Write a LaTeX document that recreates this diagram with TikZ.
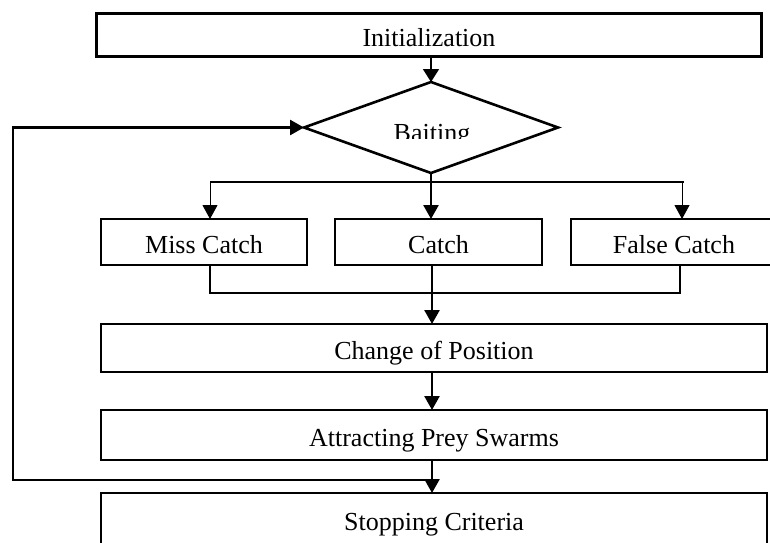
\documentclass[tikz,border=0pt]{standalone}
\usepackage{fontspec}
\setmainfont{Liberation Serif}
\usetikzlibrary{arrows.meta,shapes.geometric}
\begin{document}
\begin{tikzpicture}[x=1pt,y=-1pt,
  box/.style={draw,line width=2.6pt,rectangle,inner sep=0pt,outer sep=0pt,
    font=\fontsize{26}{30}\selectfont,text height=25pt,text depth=3pt},
  decision/.style={draw,line width=2.6pt,diamond,inner sep=0pt,outer sep=0pt},
  flow/.style={line width=2.6pt,-{Triangle[length=14pt,width=15pt]}},
  thinflow/.style={line width=1pt,-{Triangle[length=14pt,width=15pt]}},
  midflow/.style={line width=1.6pt,-{Triangle[length=13pt,width=16pt]}},
  joinline/.style={line width=2.4pt}]
\clip (0,0) rectangle (770,542);
\fill[white] (0,0) rectangle (770,542);

% process boxes
\node[box,minimum width=665,minimum height=43] (init) at (429,35) {Initialization};
\node[decision,minimum width=254,minimum height=91] (bait) at (431,127.5) {};
\node[box,minimum width=206,minimum height=46] (miss) at (204,242) {Miss Catch};
\node[box,minimum width=207,minimum height=46] (catch) at (438.5,242) {Catch};
\node[box,minimum width=206,minimum height=46] (false) at (674,242) {False Catch};
\node[box,minimum width=666,minimum height=48] (change) at (434,348) {Change of Position};
\node[box,minimum width=666,minimum height=50] (attract) at (434,435) {Attracting Prey Swarms};
\node[box,minimum width=666,minimum height=52] (stop) at (434,519) {Stopping Criteria};

% label of the decision, cut off at its lower edge
\begin{scope}
  \clip (300,100) rectangle (560,138.3);
  \node[anchor=base,inner sep=0pt,font=\fontsize{26}{30}\selectfont] (baitlabel) at (432,141.7) {Baiting};
\end{scope}

% helper coordinates
\coordinate (spine) at (432,0);
\coordinate (brL) at (210,182);
\coordinate (brR) at (682,182);
\coordinate (mgL) at (210,293);
\coordinate (mgR) at (680,293);
\coordinate (loopB) at (13,480);

% connectors
\draw[midflow] (bait.north |- init.south) -- (bait.north);
\draw[joinline] (brL) -- ([xshift=2pt]brR);
\draw[flow] (bait.south) -- (bait.south |- catch.north);
\draw[thinflow] (brL) -- (brL |- miss.north);
\draw[thinflow] (brR) -- (brR |- false.north);
\draw[joinline] (mgL |- miss.south) -- (mgL) -- (mgR) -- (mgR |- false.south);
\draw[flow] (catch.south -| spine) -- (change.north -| spine);
\draw[flow] (change.south -| spine) -- (attract.north -| spine);
\draw[flow] (attract.south -| spine) -- (stop.north -| spine);
\draw[flow] (loopB -| spine) -- (loopB) -- (loopB |- bait.west) -- (bait.west);
\end{tikzpicture}
\end{document}
